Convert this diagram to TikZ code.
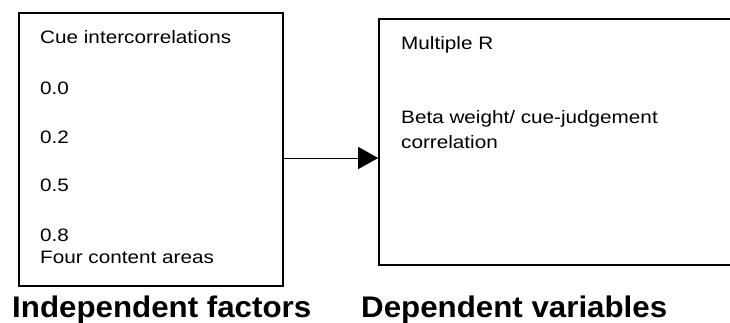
\documentclass[tikz,border=0pt]{standalone}
\usepackage{fontspec}
\usetikzlibrary{arrows.meta}
\newfontfamily\bodyfont[FakeStretch=1.15]{Liberation Sans}
\newfontfamily\headfont[FakeStretch=1.05]{Liberation Sans}
\begin{document}
\begin{tikzpicture}[x=1pt,y=-1pt,
  panel/.style={draw=black,line width=1.6pt,inner sep=0pt,rectangle},
  item/.style={anchor=base west,inner sep=0pt,font=\bodyfont\fontsize{18}{21}\selectfont},
  heading/.style={anchor=base west,inner sep=0pt,font=\headfont\bfseries\fontsize{29.8}{35}\selectfont},
  link/.style={line width=1pt,-{Triangle[length=20pt,width=22pt]}}]
\useasboundingbox (0,0) rectangle (730,322);
\clip (0,0) rectangle (730,322);
\fill[white] (0,0) rectangle (730,322);

% factor panel and the measures panel (open towards the right edge)
\node[panel,minimum width=264pt,minimum height=273pt] (factors) at (151,149.5) {};
\node[panel,minimum width=366pt,minimum height=246pt] (measures) at (562,142) {};

% contents of the factor panel
\node[item] (cue) at (40,43) {Cue intercorrelations};
\node[item] (v0) at (40,94) {0.0};
\node[item] (v2) at (40,143) {0.2};
\node[item] (v5) at (40,191) {0.5};
\node[item] (v8) at (40,241) {0.8};
\node[item] (areas) at (40,263) {Four content areas};

% contents of the measures panel
\node[item] (multr) at (401,49) {Multiple R};
\node[item] (beta) at (401,123) {Beta weight/ cue-judgement};
\node[item] (corr) at (401,148) {correlation};

% captions
\node[heading] (indep) at (12,317) {Independent factors};
\node[heading] (dep) at (361,317) {Dependent variables};

% connector
\coordinate (row) at (0,158);
\draw[link] (factors.east |- row) -- (measures.west |- row);
\end{tikzpicture}
\end{document}
